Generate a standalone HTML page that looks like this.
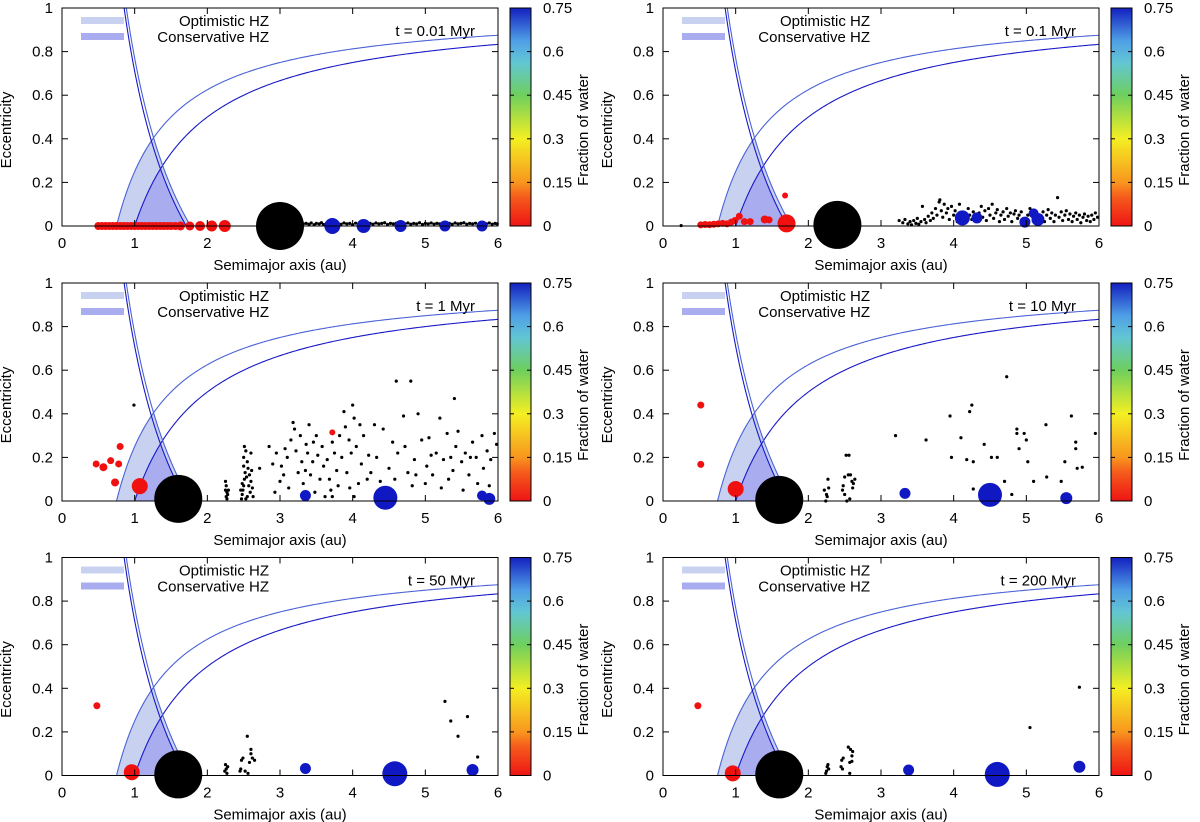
<!DOCTYPE html>
<html><head><meta charset="utf-8"><style>
html,body{margin:0;padding:0;background:#fff}
svg{display:block}
text{font-family:"Liberation Sans",sans-serif;font-size:15px;fill:#000}
</style></head><body>
<svg id="fig" width="1200" height="822" viewBox="0 0 1200 822" xmlns="http://www.w3.org/2000/svg">
<defs>
<linearGradient id="cmap" x1="0" y1="1" x2="0" y2="0">
<stop offset="0" stop-color="#ee1414"/><stop offset="0.13" stop-color="#f55a1c"/><stop offset="0.2" stop-color="#f8961e"/>
<stop offset="0.4" stop-color="#f4ef22"/><stop offset="0.6" stop-color="#6ecf5e"/><stop offset="0.75" stop-color="#62c6d4"/>
<stop offset="0.85" stop-color="#4f9fe6"/><stop offset="1" stop-color="#1420c0"/>
</linearGradient>
</defs>
</svg>
<script>
// ---- data ----
const panelTimes = ["t = 0.01 Myr","t = 0.1 Myr","t = 1 Myr","t = 10 Myr","t = 50 Myr","t = 200 Myr"];
const xTicks = [0,1,2,3,4,5,6];
const yTicks = [0,0.2,0.4,0.6,0.8,1];
const yTickLabels = ["0","0.2","0.4","0.6","0.8","1"];
const cbTicks = [0,0.15,0.3,0.45,0.6,0.75];
const cbTickLabels = ["0","0.15","0.3","0.45","0.6","0.75"];
const optInner = 0.75, optOuter = 1.77, consInner = 1.0, consOuter = 1.71;
// bodies: [a, e, size, waterFraction]; water -1 => gas giant (black)
const bodies1 = [[0.5,0,4,0],[0.55,0,4,0],[0.6,0,4,0],[0.65,0,4,0],[0.7,0,4,0],[0.75,0,4,0],[0.8,0,4,0],[0.85,0,4,0],[0.9,0,4,0],[0.95,0,4,0],[1.0,0,4,0],[1.05,0,4,0],[1.1,0,4,0],[1.15,0,4,0],[1.2,0,4,0],[1.25,0,4,0],[1.3,0,4,0],[1.35,0,4,0],[1.4,0,4,0],[1.45,0,4,0],[1.5,0,4,0],[1.56,0,4,0],[1.63,0,4.5,0],[1.76,0,4.5,0],[1.9,0,5,0],[2.06,0,5.5,0],[2.24,0,6,0],[3.0,0,24,-1],[3.72,0,8,0.75],[4.15,0,7,0.75],[4.66,0,6,0.75],[5.27,0,5.5,0.75],[5.78,0,5.5,0.75]];
const bodies2 = [[0.52,0.005,3.5,0],[0.58,0.007,3.5,0],[0.64,0.006,3.5,0],[0.7,0.008,3.5,0],[0.76,0.01,3.5,0],[0.82,0.012,3.5,0],[0.88,0.01,3.5,0],[0.94,0.018,3.5,0],[0.99,0.025,3.5,0],[1.05,0.045,3.5,0],[1.12,0.02,3.5,0],[1.2,0.02,3.5,0],[1.4,0.03,4,0],[1.46,0.028,3.5,0],[1.68,0.14,3,0],[1.7,0.012,9,0],[2.4,0.005,24,-1],[4.12,0.037,7.5,0.75],[4.32,0.037,5.5,0.75],[4.98,0.018,5.5,0.75],[5.1,0.058,5,0.75],[5.16,0.03,6.5,0.75]];
const bodies3 = [[0.47,0.17,3.5,0],[0.57,0.155,4,0],[0.67,0.185,3.5,0],[0.78,0.17,3.5,0],[0.8,0.25,3.5,0],[0.73,0.085,4,0],[1.07,0.068,8,0],[3.72,0.315,3,0],[1.6,0.01,24,-1],[3.35,0.025,5.5,0.75],[4.45,0.015,12,0.75],[5.78,0.025,5,0.75],[5.88,0.01,6,0.75]];
const bodies4 = [[0.52,0.44,3.5,0],[0.52,0.168,3.5,0],[1.0,0.055,8,0],[1.6,0.005,24,-1],[3.33,0.035,5.5,0.75],[4.5,0.028,12,0.75],[5.55,0.013,6,0.75]];
const bodies5 = [[0.48,0.32,3.5,0],[0.96,0.015,8,0],[1.6,0.005,24,-1],[3.35,0.032,5.5,0.75],[4.58,0.008,12.5,0.75],[5.65,0.025,6,0.75]];
const bodies6 = [[0.48,0.32,3.5,0],[0.96,0.01,8,0],[1.6,0.005,24,-1],[3.38,0.025,5.5,0.75],[4.6,0.005,12.5,0.75],[5.73,0.04,6,0.75]];
// small particles: [a, e]
const dots1 = [[3.32,0.01],[3.36,0.012],[3.4,0.008],[3.43,0.014],[3.47,0.006],[3.5,0.012],[3.54,0.01],[3.57,0.015],[3.6,0.007],[3.64,0.012],[3.68,0.01],[3.8,0.012],[3.84,0.008],[3.88,0.014],[3.92,0.01],[3.96,0.012],[4.0,0.006],[4.04,0.013],[4.08,0.01],[4.24,0.012],[4.28,0.008],[4.32,0.014],[4.36,0.01],[4.4,0.012],[4.44,0.015],[4.48,0.007],[4.52,0.012],[4.56,0.01],[4.6,0.013],[4.72,0.01],[4.76,0.014],[4.8,0.008],[4.84,0.012],[4.88,0.01],[4.92,0.015],[4.96,0.007],[5.0,0.012],[5.04,0.01],[5.08,0.014],[5.12,0.009],[5.16,0.012],[5.2,0.01],[5.33,0.012],[5.37,0.008],[5.41,0.014],[5.45,0.01],[5.49,0.012],[5.53,0.015],[5.57,0.008],[5.61,0.012],[5.65,0.01],[5.69,0.013],[5.84,0.01],[5.88,0.014],[5.92,0.008],[5.96,0.012],[5.99,0.01],[3.75,0.005],[4.12,0.004],[4.64,0.004],[5.25,0.005],[5.75,0.004]];
const dots2 = [[3.25,0.025],[3.3,0.015],[3.33,0.03],[3.37,0.01],[3.4,0.02],[3.42,0.005],[3.45,0.025],[3.48,0.012],[3.5,0.035],[3.52,0.008],[3.55,0.02],[3.57,0.09],[3.6,0.03],[3.62,0.015],[3.65,0.045],[3.68,0.025],[3.7,0.06],[3.72,0.035],[3.75,0.08],[3.77,0.05],[3.8,0.11],[3.81,0.12],[3.83,0.07],[3.85,0.04],[3.87,0.1],[3.9,0.06],[3.92,0.08],[3.94,0.03],[3.97,0.09],[4.0,0.05],[4.02,0.07],[4.05,0.02],[4.08,0.1],[4.1,0.06],[4.2,0.08],[4.22,0.05],[4.25,0.03],[4.27,0.065],[4.35,0.06],[4.38,0.09],[4.4,0.04],[4.43,0.07],[4.45,0.025],[4.48,0.08],[4.5,0.05],[4.53,0.1],[4.55,0.035],[4.58,0.06],[4.6,0.075],[4.63,0.02],[4.65,0.05],[4.68,0.065],[4.7,0.03],[4.73,0.08],[4.75,0.045],[4.78,0.06],[4.8,0.02],[4.83,0.055],[4.85,0.07],[4.88,0.035],[4.9,0.05],[4.93,0.065],[5.02,0.05],[5.05,0.08],[5.2,0.04],[5.23,0.065],[5.25,0.02],[5.28,0.05],[5.3,0.075],[5.33,0.035],[5.35,0.06],[5.38,0.02],[5.4,0.05],[5.43,0.13],[5.45,0.04],[5.48,0.065],[5.5,0.025],[5.53,0.05],[5.55,0.07],[5.58,0.03],[5.6,0.055],[5.63,0.02],[5.65,0.045],[5.68,0.06],[5.7,0.03],[5.73,0.05],[5.75,0.015],[5.78,0.04],[5.8,0.055],[5.83,0.025],[5.85,0.045],[5.88,0.02],[5.9,0.05],[5.93,0.03],[5.95,0.06],[5.98,0.04],[0.25,0.002]];
const dots3 = [[2.25,0.09],[2.26,0.07],[2.25,0.05],[2.27,0.04],[2.28,0.03],[2.26,0.02],[2.27,0.01],[2.29,0.05],[2.47,0.01],[2.48,0.03],[2.49,0.05],[2.5,0.07],[2.51,0.1],[2.52,0.13],[2.5,0.16],[2.5,0.2],[2.51,0.25],[2.53,0.23],[2.55,0.18],[2.56,0.15],[2.58,0.12],[2.6,0.09],[2.57,0.07],[2.62,0.06],[2.59,0.04],[2.55,0.02],[2.53,0.01],[2.61,0.14],[2.6,0.22],[2.48,0.08],[2.54,0.11],[2.63,0.02],[2.46,0.05],[2.72,0.15],[2.85,0.25],[2.9,0.17],[2.93,0.04],[2.95,0.22],[3.0,0.09],[3.02,0.16],[3.05,0.12],[3.1,0.2],[3.12,0.06],[3.15,0.28],[3.18,0.36],[3.2,0.33],[3.22,0.23],[3.25,0.13],[3.28,0.3],[3.3,0.18],[3.32,0.08],[3.36,0.26],[3.38,0.22],[3.4,0.35],[3.42,0.12],[3.45,0.18],[3.48,0.04],[3.5,0.3],[3.52,0.21],[3.55,0.1],[3.58,0.25],[3.6,0.16],[3.62,0.02],[3.65,0.19],[3.72,0.27],[3.75,0.22],[3.78,0.14],[3.8,0.07],[3.82,0.3],[3.85,0.2],[3.88,0.41],[3.9,0.34],[3.92,0.13],[3.95,0.28],[3.98,0.22],[4.0,0.44],[4.02,0.38],[4.05,0.25],[4.08,0.08],[4.1,0.35],[4.12,0.17],[4.15,0.3],[4.2,0.1],[4.22,0.21],[4.3,0.35],[4.33,0.2],[4.38,0.09],[4.42,0.33],[4.47,0.06],[4.5,0.15],[4.55,0.27],[4.6,0.55],[4.62,0.22],[4.7,0.39],[4.72,0.25],[4.76,0.13],[4.8,0.55],[4.82,0.07],[4.85,0.19],[4.9,0.4],[4.95,0.28],[5.0,0.08],[5.02,0.16],[5.05,0.29],[5.1,0.12],[5.15,0.22],[5.2,0.38],[5.22,0.06],[5.25,0.19],[5.3,0.31],[5.32,0.1],[5.38,0.14],[5.4,0.47],[5.42,0.25],[5.45,0.32],[5.5,0.18],[5.52,0.05],[5.55,0.22],[5.6,0.12],[5.65,0.27],[5.7,0.2],[5.72,0.08],[5.78,0.3],[5.8,0.15],[5.85,0.23],[5.9,0.19],[5.95,0.31],[5.98,0.26],[0.99,0.44],[3.72,0.02],[4.02,0.02],[3.68,0.1],[3.07,0.24],[3.35,0.14],[3.46,0.27],[3.7,0.05],[3.96,0.06],[4.25,0.13],[4.58,0.1],[4.87,0.12],[5.08,0.21],[5.35,0.2],[5.62,0.2],[5.88,0.07]];
const dots4 = [[2.22,0.05],[2.25,0.03],[2.27,0.1],[2.26,0.02],[2.28,0.06],[2.24,0.0],[2.47,0.05],[2.48,0.07],[2.5,0.03],[2.52,0.21],[2.56,0.21],[2.55,0.12],[2.58,0.12],[2.6,0.09],[2.62,0.08],[2.64,0.1],[2.57,0.01],[2.5,0.11],[2.53,0.0],[2.61,0.06],[3.2,0.3],[3.62,0.28],[3.95,0.39],[3.97,0.2],[4.1,0.29],[4.18,0.19],[4.22,0.41],[4.25,0.44],[4.27,0.18],[4.27,0.055],[4.42,0.26],[4.52,0.2],[4.6,0.2],[4.73,0.57],[4.7,0.09],[4.8,0.03],[4.87,0.33],[4.87,0.31],[4.9,0.24],[4.97,0.31],[5.0,0.28],[5.02,0.18],[5.1,0.09],[5.27,0.35],[5.28,0.11],[5.48,0.09],[5.53,0.18],[5.62,0.39],[5.68,0.27],[5.68,0.24],[5.7,0.15],[5.77,0.155],[5.95,0.31]];
const dots5 = [[2.25,0.05],[2.26,0.03],[2.27,0.01],[2.24,0.02],[2.28,0.04],[2.45,0.02],[2.47,0.07],[2.49,0.08],[2.46,0.03],[2.55,0.18],[2.58,0.06],[2.6,0.1],[2.6,0.12],[2.62,0.08],[2.65,0.07],[2.56,0.01],[2.52,0.02],[5.27,0.34],[5.35,0.25],[5.45,0.18],[5.58,0.27],[5.72,0.085]];
const dots6 = [[2.25,0.02],[2.26,0.04],[2.27,0.05],[2.24,0.01],[2.28,0.03],[2.45,0.04],[2.46,0.07],[2.48,0.08],[2.47,0.03],[2.55,0.13],[2.58,0.12],[2.6,0.09],[2.61,0.11],[2.57,0.06],[2.6,0.065],[2.57,0.01],[5.05,0.22],[5.73,0.405]];
const allBodies = [bodies1,bodies2,bodies3,bodies4,bodies5,bodies6];
const allDots = [dots1,dots2,dots3,dots4,dots5,dots6];

// ---- drawing ----
const NS = "http://www.w3.org/2000/svg";
const svg = document.getElementById('fig');
function mk(tag, attrs, parent){ const el=document.createElementNS(NS,tag); for(const k in attrs) el.setAttribute(k,attrs[k]); (parent||svg).appendChild(el); return el; }
function txt(s, attrs, parent){ const t=mk('text',attrs,parent); t.textContent=s; return t; }
function waterColor(w){
  const stops=[[0,[240,16,16]],[0.1,[245,90,28]],[0.15,[248,150,30]],[0.3,[244,239,34]],[0.45,[110,207,94]],[0.56,[98,198,212]],[0.64,[79,159,230]],[0.75,[16,24,196]]];
  for(let i=1;i<stops.length;i++){ if(w<=stops[i][0]){ const [w0,c0]=stops[i-1],[w1,c1]=stops[i]; const f=(w-w0)/(w1-w0); return 'rgb('+c0.map((c,j)=>Math.round(c+(c1[j]-c)*f)).join(',')+')'; } }
  return 'rgb(16,24,196)';
}
const PW=436, PH=218;
const panelX=[62,663], panelY=[8,283,557.5];

function drawPanel(idx){
  const col=idx%2, row=Math.floor(idx/2);
  const X0=panelX[col], Y0=panelY[row];
  const g=mk('g',{});
  
  
  const sx=a=>X0+a/6*PW, sy=e=>Y0+PH-e*PH;
  const clipId='clip'+idx;
  const cp=mk('clipPath',{id:clipId},g); mk('rect',{x:X0,y:Y0,width:PW,height:PH},cp);
  const pg=mk('g',{'clip-path':'url(#'+clipId+')'},g);
  function region(rin,rout,fill,name){
    const amid=(rin+rout)/2; let pts=[];
    const N=60;
    for(let i=0;i<=N;i++){ const a=rin+(amid-rin)*i/N; pts.push([sx(a),sy(1-rin/a)]); }
    for(let i=0;i<=N;i++){ const a=amid+(rout-amid)*i/N; pts.push([sx(a),sy(rout/a-1)]); }
    const p=mk('polygon',{points:pts.map(p=>p.join(',')).join(' '),fill:fill},pg);
    
    
  }
  region(optInner,optOuter,'#c9d1f1','optimistic-hz-region');
  region(consInner,consOuter,'#a9acef','conservative-hz-region');
  function curve(fn,a0,a1,stroke,name){
    let d=''; const N=200;
    for(let i=0;i<=N;i++){ const a=a0+(a1-a0)*i/N; d+=(i?'L':'M')+sx(a).toFixed(2)+','+sy(fn(a)).toFixed(2); }
    const p=mk('path',{d:d,fill:'none',stroke:stroke,'stroke-width':1.1},pg);
    
    
  }
  curve(a=>1-optInner/a,optInner,6,'#4a63d6','optimistic-periastron-curve');
  curve(a=>1-consInner/a,consInner,6,'#1818c8','conservative-periastron-curve');
  curve(a=>optOuter/a-1,optOuter/2,optOuter,'#4a63d6','optimistic-apoastron-curve');
  curve(a=>consOuter/a-1,consOuter/2,consOuter,'#1818c8','conservative-apoastron-curve');
  const lb1=mk('rect',{x:X0+19,y:Y0+9,width:43,height:7,fill:'#c9d1f1'},g);
  
  
  const lb2=mk('rect',{x:X0+19,y:Y0+25,width:43,height:7,fill:'#a9acef'},g);
  
  
  const lt1=txt('Optimistic HZ',{x:X0+207,y:Y0+18,'text-anchor':'end'},g);
  
  
  const lt2=txt('Conservative HZ',{x:X0+207,y:Y0+34,'text-anchor':'end'},g);
  
  
  const tt=txt(panelTimes[idx],{x:X0+413,y:Y0+28,'text-anchor':'end'},g);
  
  
  allDots[idx].forEach(d=>{
    const c=mk('circle',{cx:sx(d[0]),cy:sy(d[1]),r:1.6,fill:'#000'},g);
    
    
  });
  allBodies[idx].forEach(b=>{
    const c=mk('circle',{cx:sx(b[0]),cy:sy(b[1]),r:b[2],fill:b[3]<0?'#000':waterColor(b[3])},g);
    
    
  });
  const fr=mk('rect',{x:X0,y:Y0,width:PW,height:PH,fill:'none',stroke:'#000','stroke-width':1},g);
  
  
  xTicks.forEach(v=>{
    const x=sx(v);
    mk('line',{x1:x,y1:Y0+PH,x2:x,y2:Y0+PH-6,stroke:'#000'},g);
    mk('line',{x1:x,y1:Y0,x2:x,y2:Y0+6,stroke:'#000'},g);
    const t=txt(String(v),{x:x,y:Y0+PH+22,'text-anchor':'middle'},g);
    
    
  });
  yTicks.forEach((v,i)=>{
    const y=sy(v);
    mk('line',{x1:X0,y1:y,x2:X0+6,y2:y,stroke:'#000'},g);
    mk('line',{x1:X0+PW,y1:y,x2:X0+PW-6,y2:y,stroke:'#000'},g);
    const t=txt(yTickLabels[i],{x:X0-9,y:y+5,'text-anchor':'end'},g);
    
    
  });
  const xt=txt('Semimajor axis (au)',{x:X0+PW/2,y:Y0+PH+44,'text-anchor':'middle'},g);
  
  
  const yx=X0-51, yy=Y0+122;
  const yt=txt('Eccentricity',{x:yx,y:yy,'text-anchor':'middle',transform:'rotate(-90 '+yx+' '+yy+')'},g);
  
  
  const CX=X0+448, CW=21;
  const cb=mk('rect',{x:CX,y:Y0,width:CW,height:PH,fill:'url(#cmap)',stroke:'#000','stroke-width':1},g);
  
  
  cbTicks.forEach((v,i)=>{
    const y=Y0+PH-v/0.75*PH;
    mk('line',{x1:CX,y1:y,x2:CX+4,y2:y,stroke:'#000'},g);
    mk('line',{x1:CX+CW,y1:y,x2:CX+CW-4,y2:y,stroke:'#000'},g);
    const t=txt(cbTickLabels[i],{x:CX+33,y:y+5},g);
    
    
  });
  const cx2=X0+526, cy2=Y0+122;
  const ct=txt('Fraction of water',{x:cx2,y:cy2,'text-anchor':'middle',transform:'rotate(-90 '+cx2+' '+cy2+')'},g);
  
  
}
for(let i=0;i<6;i++) drawPanel(i);
</script>
</body></html>
